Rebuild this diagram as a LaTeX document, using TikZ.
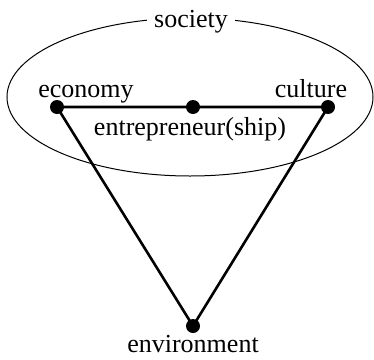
\documentclass[tikz,border=0pt]{standalone}
\usepackage{fontspec}
\setmainfont{Liberation Serif}
\newfontfamily\timesfont{Liberation Serif}
\begin{document}
\begin{tikzpicture}[x=1pt,y=-1pt,
  dot/.style={circle,fill=black,inner sep=0pt,minimum size=14pt},
  lbl/.style={font=\timesfont\fontsize{26}{28}\selectfont, inner sep=0pt, anchor=base},
  edge/.style={line width=2.6pt}]
\useasboundingbox (0,0) rectangle (374,359);
\draw[line width=1pt] (190,97) ellipse [x radius=183, y radius=79];
\node[lbl, fill=white, inner xsep=7pt, inner ysep=2pt] (soc) at (191,27) {society};
\node[dot] (eco) at (57,107) {};
\node[dot] (ent) at (193,107) {};
\node[dot] (cul) at (328,107) {};
\node[dot] (env) at (193,326) {};
\draw[edge] (eco.center) -- (ent.center) -- (cul.center) -- (env.center) -- cycle;
\node[lbl] (ecol) at (86,97) {economy};
\node[lbl] (cull) at (311,97) {culture};
\node[lbl] (entl) at (190,135) {entrepreneur(ship)};
\node[lbl] (envl) at (193,352) {environment};
\end{tikzpicture}
\end{document}
